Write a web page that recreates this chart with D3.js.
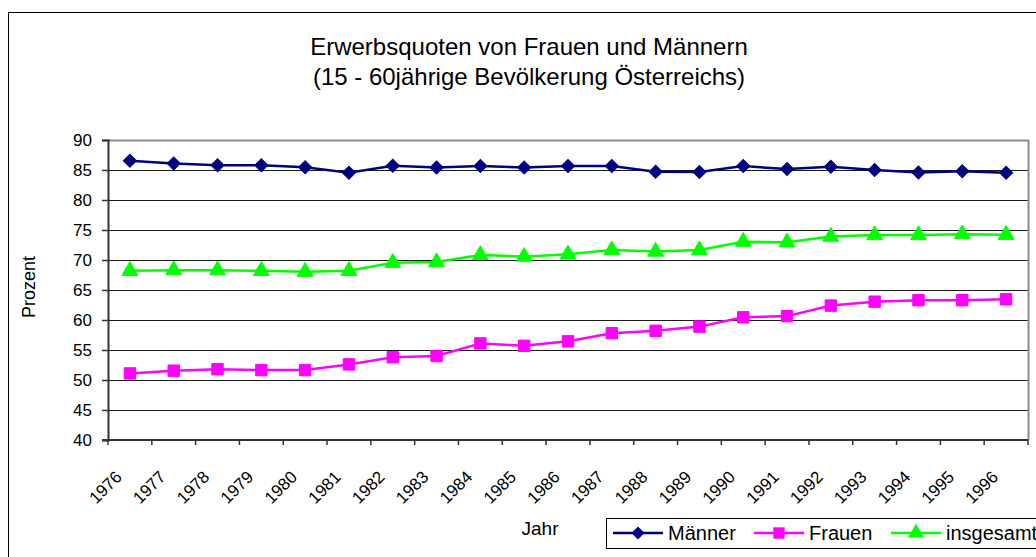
<!DOCTYPE html>
<html lang="de">
<head>
    <meta charset="UTF-8">
	<title>Erwerbsquoten von Frauen und Männern</title>
    <script type="text/javascript" src="https://cdn.jsdelivr.net/npm/d3@7"></script>
	<style>
		body { margin: 0; background: #fff; }
		text { font-family: "Liberation Sans", Arial, sans-serif; fill: #000; }
	</style>
</head>
<body>
	<script type="text/javascript">

	// Data
	var years = ["1976","1977","1978","1979","1980","1981","1982","1983","1984","1985","1986",
		"1987","1988","1989","1990","1991","1992","1993","1994","1995","1996"];
	var maenner = [86.55, 86.1, 85.8, 85.8, 85.45, 84.55, 85.7, 85.4, 85.65, 85.4, 85.65,
		85.65, 84.7, 84.65, 85.65, 85.15, 85.55, 85.0, 84.6, 84.8, 84.55];
	var frauen = [51.1, 51.55, 51.8, 51.65, 51.65, 52.6, 53.8, 54.0, 56.1, 55.7, 56.45,
		57.8, 58.2, 58.9, 60.45, 60.65, 62.4, 63.05, 63.3, 63.3, 63.45];
	var insgesamt = [68.2, 68.3, 68.3, 68.2, 68.05, 68.2, 69.55, 69.65, 70.85, 70.55, 70.95,
		71.65, 71.4, 71.65, 73.05, 72.95, 73.9, 74.15, 74.15, 74.3, 74.2];
	var yTicks = [40, 45, 50, 55, 60, 65, 70, 75, 80, 85, 90];
	var seriesNames = ["Männer", "Frauen", "insgesamt"];
	var titleLines = ["Erwerbsquoten von Frauen und Männern", "(15 - 60jährige Bevölkerung Österreichs)"];

	var w = 1036;
	var h = 557;
	var plotLeft = 108, plotRight = 1028, plotTop = 140, plotBottom = 440;

	// diamond = square turned by 45 degrees
	var series = [
		{name: seriesNames[0], values: maenner, color: "#000080", symbol: d3.symbolSquare, size: 85, rot: 45},
		{name: seriesNames[1], values: frauen, color: "#ff00ff", symbol: d3.symbolSquare, size: 130, rot: 0},
		{name: seriesNames[2], values: insgesamt, color: "#00ff00", symbol: d3.symbolTriangle, size: 110, rot: 0}
	];

	var svg = d3.select("body")
		.append("svg")
		.attr("width", w)
		.attr("height", h);

	// outer chart border (runs off the picture right and bottom)
	svg.append("rect")
		.attr("x", 8.5).attr("y", 12.5)
		.attr("width", 1100).attr("height", 600)
		.attr("fill", "#fff")
		.attr("stroke", "#000")
		.attr("stroke-width", 1);

	// scales
	var xScale = d3.scaleBand()
		.domain(years)
		.range([plotLeft, plotRight]);
	var yScale = d3.scaleLinear()
		.domain([40, 90])
		.range([plotBottom, plotTop]);
	var cx = function(i) { return xScale(years[i]) + xScale.bandwidth() / 2; };

	// title
	svg.selectAll("text.title")
		.data(titleLines)
		.enter()
		.append("text")
		.attr("class", "title")
		.attr("x", 529)
		.attr("y", function(d, i) { return 55 + i * 30; })
		.attr("text-anchor", "middle")
		.style("font-size", "24px")
		.text(function(d) { return d; });

	// gridlines
	svg.append("g")
		.selectAll("line")
		.data(yTicks.slice(1, -1))
		.enter()
		.append("line")
		.attr("x1", plotLeft).attr("x2", plotRight)
		.attr("y1", function(d) { return Math.round(yScale(d)) + 0.5; })
		.attr("y2", function(d) { return Math.round(yScale(d)) + 0.5; })
		.attr("stroke", "#1a1a1a")
		.attr("stroke-width", 1);

	// plot frame top and right (grey)
	svg.append("path")
		.attr("d", "M" + plotLeft + "," + (plotTop + 0.5) + "H" + (plotRight + 0.5) + "V" + plotBottom)
		.attr("fill", "none")
		.attr("stroke", "#8c8c8c")
		.attr("stroke-width", 2);

	// Y axis
	var yAxis = d3.axisLeft(yScale)
		.tickValues(yTicks)
		.tickSize(6)
		.tickPadding(10);
	var gy = svg.append("g")
		.attr("transform", "translate(" + plotLeft + ",0)")
		.call(yAxis);
	gy.select(".domain").attr("stroke", "#333").attr("stroke-width", 2);
	gy.selectAll(".tick line").attr("stroke", "#333").attr("stroke-width", 1.5);
	gy.selectAll("text")
		.style("font-size", "17px")
		.style("font-family", "Liberation Sans, Arial, sans-serif")
		.attr("fill", "#000");

	// X axis: ticks on category borders
	var borders = years.map(function(d) { return xScale(d); }).concat([plotRight]);
	svg.append("line")
		.attr("x1", plotLeft - 6).attr("x2", plotRight)
		.attr("y1", plotBottom).attr("y2", plotBottom)
		.attr("stroke", "#333").attr("stroke-width", 2);
	svg.append("g")
		.selectAll("line")
		.data(borders)
		.enter()
		.append("line")
		.attr("x1", function(d) { return d; }).attr("x2", function(d) { return d; })
		.attr("y1", plotBottom).attr("y2", plotBottom + 5)
		.attr("stroke", "#333").attr("stroke-width", 1.5);

	svg.append("g")
		.selectAll("text")
		.data(years)
		.enter()
		.append("text")
		.attr("transform", function(d, i) {
			return "translate(" + (cx(i) - 7) + "," + 478 + ") rotate(-45)";
		})
		.attr("text-anchor", "end")
		.style("font-size", "17px")
		.text(function(d) { return d; });

	// axis titles
	svg.append("text")
		.attr("x", 540).attr("y", 535)
		.attr("text-anchor", "middle")
		.style("font-size", "19px")
		.text("Jahr");
	svg.append("text")
		.attr("transform", "translate(35,287) rotate(-90)")
		.attr("text-anchor", "middle")
		.style("font-size", "18px")
		.text("Prozent");

	// lines and markers
	var line = d3.line()
		.x(function(d, i) { return cx(i); })
		.y(function(d) { return yScale(d); });

	series.forEach(function(s) {
		svg.append("path")
			.datum(s.values)
			.attr("d", line)
			.attr("fill", "none")
			.attr("stroke", s.color)
			.attr("stroke-width", 2.5);
		svg.append("g")
			.selectAll("path")
			.data(s.values)
			.enter()
			.append("path")
			.attr("transform", function(d, i) {
				return "translate(" + cx(i) + "," + yScale(d) + ") rotate(" + s.rot + ")";
			})
			.attr("d", d3.symbol().type(s.symbol).size(s.size))
			.attr("fill", s.color)
			.attr("stroke", s.color)
			.attr("stroke-width", 1);
	});

	// legend
	var legend = svg.append("g");
	legend.append("rect")
		.attr("x", 606.5).attr("y", 518.5)
		.attr("width", 500).attr("height", 30)
		.attr("fill", "#fff")
		.attr("stroke", "#000");
	var legX = [613, 754, 891];
	series.forEach(function(s, i) {
		var g = legend.append("g").attr("transform", "translate(" + legX[i] + ",533)");
		g.append("line")
			.attr("x1", 0).attr("x2", 50)
			.attr("stroke", s.color).attr("stroke-width", 2.5);
		g.append("path")
			.attr("transform", "translate(25,0) rotate(" + s.rot + ")")
			.attr("d", d3.symbol().type(s.symbol).size(s.size))
			.attr("fill", s.color);
		g.append("text")
			.attr("x", 55).attr("y", 7)
			.style("font-size", "20px")
			.text(s.name);
	});

	</script>
</body>
</html>
